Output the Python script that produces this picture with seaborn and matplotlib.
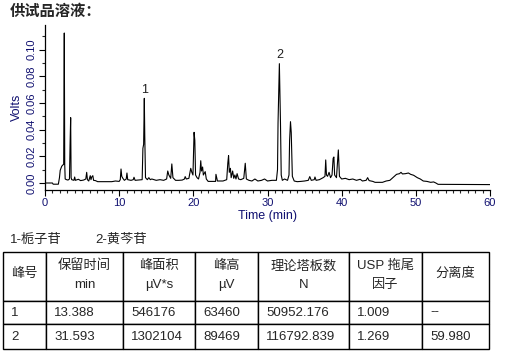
import matplotlib
matplotlib.use("Agg")
import matplotlib.pyplot as plt
from matplotlib.table import Table
from matplotlib.ticker import MultipleLocator, FormatStrFormatter
import seaborn as sns
import pandas as pd

# chromatogram trace: (time min, signal V)
trace = [
    (0.0, 0.0), (1.0, 0.0), (1.1, -0.0009), (1.8, -0.0009), (1.95, 0.004),
    (2.05, 0.0095), (2.15, 0.011), (2.25, 0.0125), (2.4, 0.0135), (2.52, 0.014),
    (2.6, 0.1125), (2.66, 0.014), (2.72, 0.003), (2.9, 0.0025), (3.1, 0.0022),
    (3.3, 0.003), (3.38, 0.0285), (3.46, 0.049), (3.52, 0.004), (3.6, 0.0025),
    (3.9, 0.002), (4.0, 0.0045), (4.1, 0.002), (4.5, 0.0028), (4.8, 0.0018),
    (5.2, 0.0022), (5.5, 0.003), (5.62, 0.008), (5.72, 0.0025), (5.9, 0.0015),
    (6.1, 0.0055), (6.2, 0.0025), (6.3, 0.0045), (6.45, 0.0055), (6.55, 0.002),
    (6.8, 0.0018), (7.1, 0.001), (9.0, 0.001), (9.5, 0.0015), (10.0, 0.0012),
    (10.15, 0.0025), (10.25, 0.0105), (10.35, 0.005), (10.5, 0.0035), (10.7, 0.002),
    (10.95, 0.003), (11.05, 0.0075), (11.15, 0.0025), (11.6, 0.002), (11.9, 0.0025),
    (12.0, 0.0043), (12.15, 0.002), (12.6, 0.0022), (13.1, 0.0025), (13.2, 0.026),
    (13.3, 0.029), (13.39, 0.0635), (13.45, 0.036), (13.55, 0.004), (13.8, 0.0025),
    (14.0, 0.004), (14.2, 0.0025), (14.4, 0.003), (15.0, 0.002), (15.5, 0.0025),
    (16.0, 0.002), (16.4, 0.003), (16.55, 0.009), (16.7, 0.006), (16.95, 0.0035),
    (17.1, 0.0143), (17.25, 0.004), (17.6, 0.002), (18.0, 0.002), (18.5, 0.0022),
    (18.8, 0.003), (18.9, 0.0048), (19.05, 0.003), (19.4, 0.0035), (19.65, 0.011),
    (19.8, 0.008), (19.95, 0.006), (20.1, 0.038), (20.2, 0.032), (20.3, 0.006),
    (20.5, 0.004), (20.7, 0.003), (20.9, 0.008), (21.0, 0.0167), (21.1, 0.009),
    (21.25, 0.012), (21.35, 0.006), (21.6, 0.0085), (21.75, 0.003), (22.0, 0.0012),
    (23.0, 0.0012), (23.05, 0.0065), (23.25, 0.0015), (24.0, 0.0015), (24.5, 0.0025),
    (24.65, 0.015), (24.75, 0.0205), (24.85, 0.008), (25.0, 0.011), (25.1, 0.004),
    (25.3, 0.009), (25.45, 0.0035), (25.6, 0.006), (25.75, 0.003), (25.9, 0.007),
    (26.1, 0.003), (26.4, 0.0025), (26.8, 0.0035), (27.0, 0.0148), (27.15, 0.003),
    (27.5, 0.002), (27.9, 0.0015), (28.3, 0.003), (28.7, 0.0015), (29.2, 0.002),
    (29.6, 0.003), (30.0, 0.0015), (30.6, 0.002), (31.2, 0.002), (31.35, 0.01),
    (31.42, 0.045), (31.6, 0.0895), (31.75, 0.045), (31.85, 0.006), (32.0, 0.002),
    (32.3, 0.003), (32.7, 0.002), (32.9, 0.006), (32.98, 0.032), (33.1, 0.046),
    (33.2, 0.038), (33.35, 0.005), (33.6, 0.0015), (34.0, 0.001), (34.5, 0.0012),
    (35.0, 0.0015), (35.5, 0.002), (35.7, 0.0048), (35.9, 0.002), (36.3, 0.0025),
    (36.4, 0.0045), (36.55, 0.002), (37.0, 0.0025), (37.5, 0.004), (37.75, 0.005),
    (37.85, 0.0173), (37.95, 0.006), (38.1, 0.005), (38.3, 0.008), (38.5, 0.004),
    (38.7, 0.006), (38.85, 0.0185), (38.95, 0.0195), (39.05, 0.006), (39.3, 0.004),
    (39.55, 0.0248), (39.7, 0.005), (40.0, 0.003), (40.5, 0.0035), (41.0, 0.0025),
    (41.5, 0.003), (42.0, 0.002), (42.5, 0.0028), (42.8, 0.0015), (43.3, 0.002),
    (43.5, 0.004), (43.7, 0.0018), (44.2, 0.0012), (44.5, 0.0005), (45.5, 0.0005),
    (46.0, 0.0015), (46.5, 0.002), (47.0, 0.0045), (47.4, 0.0065), (47.8, 0.007),
    (48.0, 0.008), (48.2, 0.0068), (48.6, 0.007), (49.0, 0.0075), (49.3, 0.0065),
    (49.7, 0.0058), (50.2, 0.004), (50.6, 0.003), (51.0, 0.0015), (51.5, 0.0012),
    (52.0, 0.0005), (52.4, 0.0008), (52.7, 0.0), (53.0, -0.001), (60.0, -0.0012),
]

peak_ids = ["1", "2"]
peak_names = ["栀子苷", "黄芩苷"]
peak_rt = [13.388, 31.593]
peak_area = ["546176", "1302104"]
peak_height_uv = [63460, 89469]
plates = ["50952.176", "116792.839"]
tailing = ["1.009", "1.269"]
resolution = ["--", "59.980"]

headers = ["峰号", "保留时间\nmin", "峰面积\nµV*s", "峰高\nµV", "理论塔板数\nN", "USP 拖尾\n因子", "分离度"]

df = pd.DataFrame(trace, columns=["time", "volts"])

sns.set_style("ticks")
plt.rcParams["font.family"] = ["Liberation Sans", "Noto Sans CJK SC"]
cjk = ["Liberation Sans", "Noto Sans CJK SC"]
navy = "#101070"

W, H = 508, 358
fig = plt.figure(figsize=(W / 100, H / 100), dpi=100)
ax = fig.add_axes([45 / W, 1 - 190 / H, 445 / W, 165 / H])

sns.lineplot(data=df, x="time", y="volts", ax=ax, color="black", lw=0.8,
             estimator=None, sort=False)

ax.set_xlim(0, 60)
ax.set_ylim(-0.00525, 0.1185)
ax.xaxis.set_major_locator(MultipleLocator(10))
ax.xaxis.set_minor_locator(MultipleLocator(1))
ax.yaxis.set_major_locator(MultipleLocator(0.02))
ax.yaxis.set_minor_locator(MultipleLocator(0.01))
ax.yaxis.set_major_formatter(FormatStrFormatter("%.2f"))
ax.tick_params(which="major", length=4, width=0.8, colors="black", labelcolor=navy, labelsize=8, pad=2)
ax.tick_params(which="minor", length=2.2, width=0.8)
for lab in ax.get_yticklabels():
    lab.set_rotation(90)
    lab.set_va("center")
ax.set_xlabel("Time (min)", fontsize=9, color=navy, labelpad=1)
ax.set_ylabel("Volts", fontsize=9, color=navy, labelpad=3)
sns.despine(ax=ax)
for s in ["left", "bottom"]:
    ax.spines[s].set_linewidth(0.9)
    ax.spines[s].set_color("black")

for pid, rt, h in zip(peak_ids, peak_rt, peak_height_uv):
    ax.annotate(pid, (rt, h / 1e6), xytext=(0, 2), textcoords="offset points",
                ha="center", va="bottom", fontsize=9, color="#202020")

fig.text(10 / W, 1 - 12 / H, "供试品溶液：", fontsize=11, fontweight="bold",
         family=cjk, va="center", ha="left")
legend_x = [10, 95]
for (pid, name), lx in zip(zip(peak_ids, peak_names), legend_x):
    fig.text(lx / W, 1 - 240 / H, f"{pid}-{name}", fontsize=9.5, family=cjk,
             va="center", ha="left")

# results table
col_px = [43, 77, 72, 63, 91, 73, 67]
row_px = [49, 23, 25]
tab_w, tab_h = sum(col_px), sum(row_px)
ax_tab = fig.add_axes([3 / W, 1 - 349 / H, tab_w / W, tab_h / H])
ax_tab.axis("off")

body = [
    [pid, f"{rt:.3f}", a, str(h), p, t, r]
    for pid, rt, a, h, p, t, r in zip(peak_ids, peak_rt, peak_area, peak_height_uv,
                                      plates, tailing, resolution)
]
table = Table(ax_tab, bbox=[0, 0, 1, 1])
for r, (row_vals, rh) in enumerate(zip([[""] * len(headers)] + body, row_px)):
    for c, (txt, cw) in enumerate(zip(row_vals, col_px)):
        cell = table.add_cell(r, c, width=cw / tab_w, height=rh / tab_h, text=txt,
                              loc="left", edgecolor="black", facecolor="white")
        cell.set_linewidth(1.0)
        cell.PAD = 8 / cw
        t = cell.get_text()
        t.set_fontsize(9.5)
        t.set_fontfamily(cjk)
table.auto_set_font_size(False)
ax_tab.add_table(table)

# header text, one centred line at a time
left = 0
for head, cw in zip(headers, col_px):
    xc = (left + cw / 2) / tab_w
    lines = head.split("\n")
    ys = [274] if len(lines) == 1 else [266, 285]
    for line, ypx in zip(lines, ys):
        ax_tab.text(xc, (349 - ypx) / tab_h, line, transform=ax_tab.transAxes,
                    ha="center", va="center", fontsize=9.5, family=cjk)
    left += cw

fig.savefig("out.png", dpi=100)
